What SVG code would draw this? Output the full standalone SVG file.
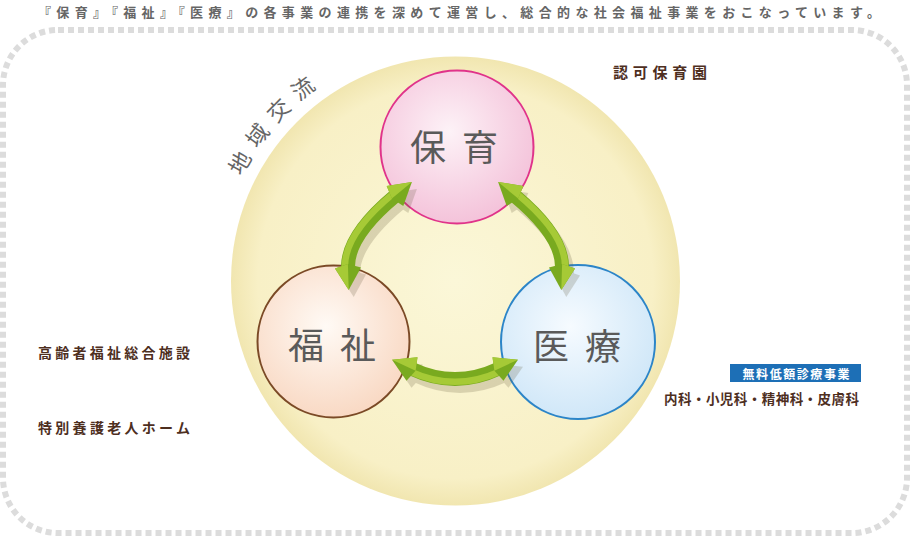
<svg xmlns="http://www.w3.org/2000/svg" width="911" height="537" viewBox="0 0 911 537">
<defs>
<style>
.jp{font-family:"Noto Sans CJK JP","Noto Sans",sans-serif}
.lbl{font-family:"Noto Sans CJK JP","Noto Sans",sans-serif;font-weight:700;fill:#4e2f1f}
.big{font-family:"Noto Sans CJK JP","Noto Sans",sans-serif;font-size:36px;fill:#5a5a5a;letter-spacing:16px}
.dark{fill:#79aa1f}
.light{fill:#a6ca36}
.bodyD{fill:none;stroke:#79aa1f;stroke-width:14}
.bodyL{fill:none;stroke:#a6ca36;stroke-width:6.5}
.sh{fill:#5a5030}
.shb{fill:none;stroke:#5a5030;stroke-width:14}
</style>
<radialGradient id="gBig" cx="50%" cy="50%" r="50%">
<stop offset="0" stop-color="#fbf7d8"/>
<stop offset="0.88" stop-color="#f8f0c6"/>
<stop offset="1" stop-color="#f1e6b0"/>
</radialGradient>
<radialGradient id="gPink" cx="45%" cy="40%" r="60%">
<stop offset="0" stop-color="#fdf2f7"/>
<stop offset="1" stop-color="#f4c3da"/>
</radialGradient>
<radialGradient id="gPeach" cx="45%" cy="40%" r="60%">
<stop offset="0" stop-color="#fffaf5"/>
<stop offset="1" stop-color="#f9d9c4"/>
</radialGradient>
<radialGradient id="gBlue" cx="45%" cy="40%" r="60%">
<stop offset="0" stop-color="#f6fbff"/>
<stop offset="1" stop-color="#d0e7f8"/>
</radialGradient>
<path id="arcText" d="M242.1,176.7 A238,238 0 0 1 355.4,65.3"/>
</defs>

<rect x="3" y="30" width="904" height="503" rx="55" ry="55" fill="none" stroke="#dcdcdc" stroke-width="6" stroke-dasharray="6 4"/>

<text class="jp" x="38" y="17" font-size="13" font-weight="700" fill="#666" textLength="842" lengthAdjust="spacing">『保育』『福祉』『医療』の各事業の連携を深めて運営し、総合的な社会福祉事業をおこなっています。</text>

<g id="community">
<circle cx="455.5" cy="281" r="224.5" fill="url(#gBig)"/>
<text class="jp" font-size="22" fill="#666" letter-spacing="9.6"><textPath href="#arcText">地域交流</textPath></text>
</g>

<g id="node-hoiku">
<circle cx="457" cy="147" r="76.5" fill="url(#gPink)" stroke="#e0338a" stroke-width="2"/>
<text class="big" x="410" y="161">保育</text>
</g>
<g id="node-fukushi">
<circle cx="333.5" cy="341.5" r="76" fill="url(#gPeach)" stroke="#7b4a26" stroke-width="2"/>
<text class="big" x="288" y="359">福祉</text>
</g>
<g id="node-iryo">
<circle cx="578" cy="342" r="77" fill="url(#gBlue)" stroke="#2c85c8" stroke-width="2"/>
<text class="big" x="533" y="360">医療</text>
</g>

<g id="connectors">
<g opacity="0.2" transform="translate(5,7)">
<path class="shb" d="M395,196 Q347,236 348,268"/>
<polygon class="sh" points="411.9,181.9 386.7,186 391.9,198.6 403.3,206"/>
<polygon class="sh" points="348.7,290 335,268.4 347.9,264 361,267.6"/>
</g>
<g opacity="0.2" transform="translate(5,7)">
<path class="shb" d="M515,196 Q563,236 562,268"/>
<polygon class="sh" points="498.1,181.9 523.3,186 518.1,198.6 506.7,206"/>
<polygon class="sh" points="561.3,290 575,268.4 562.1,264 549,267.6"/>
</g>
<g opacity="0.2" transform="translate(5,7)">
<path class="shb" d="M412,369 Q455,389 498,369"/>
<polygon class="sh" points="392,359.7 417.5,357.2 415.6,370.7 406.5,380.8"/>
<polygon class="sh" points="518,359.7 492.5,357.2 494.4,370.7 503.5,380.8"/>
</g>

<g id="arrow-hoiku-fukushi">
<path class="bodyD" d="M395,196 Q347,236 348,268"/>
<path class="bodyL" d="M393.1,193.7 Q343.5,234.5 345,268.1"/>
<polygon class="dark" points="411.9,181.9 386.7,186 391.9,198.6 403.3,206"/>
<polygon class="light" points="411.9,181.9 386.7,186 391.9,198.6"/>
<polygon class="dark" points="348.7,290 335,268.4 347.9,264 361,267.6"/>
<polygon class="light" points="348.7,290 335,268.4 347.9,264"/>
</g>
<g id="arrow-hoiku-iryo">
<path class="bodyD" d="M515,196 Q563,236 562,268"/>
<path class="bodyL" d="M516.9,193.7 Q566.5,234.5 565,268.1"/>
<polygon class="dark" points="498.1,181.9 523.3,186 518.1,198.6 506.7,206"/>
<polygon class="light" points="498.1,181.9 523.3,186 518.1,198.6"/>
<polygon class="dark" points="561.3,290 575,268.4 562.1,264 549,267.6"/>
<polygon class="light" points="561.3,290 575,268.4 562.1,264"/>
</g>
<g id="arrow-fukushi-iryo">
<path class="bodyD" d="M412,369 Q455,389 498,369"/>
<path class="bodyL" d="M410.7,371.7 Q455,392 499.3,371.7"/>
<polygon class="dark" points="392,359.7 417.5,357.2 415.6,370.7 406.5,380.8"/>
<polygon class="light" points="392,359.7 417.5,357.2 415.6,370.7"/>
<polygon class="dark" points="518,359.7 492.5,357.2 494.4,370.7 503.5,380.8"/>
<polygon class="light" points="518,359.7 492.5,357.2 494.4,370.7"/>
</g>
</g>

<g id="label-hoikuen">
<text class="lbl" x="613" y="77.5" font-size="15" textLength="94" lengthAdjust="spacing">認可保育園</text>
</g>
<g id="label-koureisha">
<text class="lbl" x="38" y="357.5" font-size="14" textLength="152" lengthAdjust="spacing">高齢者福祉総合施設</text>
</g>
<g id="label-tokuyou">
<text class="lbl" x="38" y="432.5" font-size="14" textLength="152" lengthAdjust="spacing">特別養護老人ホーム</text>
</g>
<g id="label-muryou">
<rect x="730" y="364" width="131" height="18" fill="#1d6fb6"/>
<text class="jp" x="742.5" y="378.5" font-size="12" font-weight="700" fill="#fff" textLength="107" lengthAdjust="spacing">無料低額診療事業</text>
</g>
<g id="label-ka">
<text class="lbl" x="664" y="403.5" font-size="13.5" textLength="195" lengthAdjust="spacing">内科・小児科・精神科・皮膚科</text>
</g>
</svg>
